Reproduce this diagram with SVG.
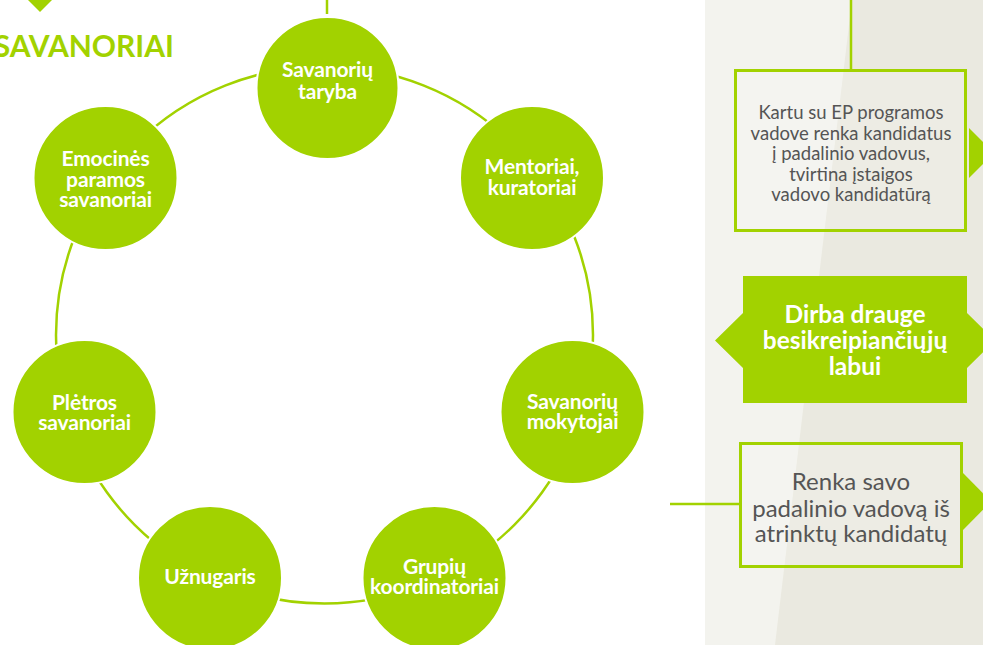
<svg xmlns="http://www.w3.org/2000/svg" width="983" height="645" viewBox="0 0 983 645">
<style>
.node{fill:#a2d200;stroke:#ffffff;stroke-width:2}
.ntext{font-family:Lato,"Liberation Sans",sans-serif;font-weight:bold;font-size:21px;letter-spacing:-0.15px;fill:#ffffff;text-anchor:middle}
.line{stroke:#a2d200;stroke-width:2.5;fill:none}
.box{fill:#ffffff;fill-opacity:0.15;stroke:#a2d200;stroke-width:3}
.gtext{font-family:Lato,"Liberation Sans",sans-serif;fill:#555555;text-anchor:middle}
.green{fill:#a2d200}
</style>
<rect x="0" y="0" width="983" height="645" fill="#ffffff"/>
<rect x="705" y="0" width="278" height="645" fill="#f3f3ee"/>
<polygon points="852,0 983,0 983,645 775,645" fill="#eae9e0"/>

<polygon class="green" points="26,-2 54,-2 40,12"/>
<text x="174" y="57" font-family="Lato,'Liberation Sans',sans-serif" font-weight="bold" font-size="30" fill="#a2d200" text-anchor="end">SAVANORIAI</text>

<g id="connectors">
<circle class="line" cx="324.5" cy="335" r="268.5"/>
<line class="line" x1="327" y1="0" x2="327" y2="14"/>
<line class="line" x1="851" y1="0" x2="851" y2="70"/>
<line class="line" x1="670" y1="504" x2="739" y2="504"/>
</g>

<g id="n-taryba">
<circle class="node" cx="327.5" cy="88" r="71"/>
<text class="ntext" x="327.5" y="77">Savanorių</text>
<text class="ntext" x="327.5" y="99">taryba</text>
</g>
<g id="n-mentoriai">
<circle class="node" cx="532" cy="178" r="72"/>
<text class="ntext" x="532" y="174">Mentoriai,</text>
<text class="ntext" x="532" y="195">kuratoriai</text>
</g>
<g id="n-mokytojai">
<circle class="node" cx="572.5" cy="412" r="72"/>
<text class="ntext" x="572.5" y="409">Savanorių</text>
<text class="ntext" x="572.5" y="429">mokytojai</text>
</g>
<g id="n-grupiu">
<circle class="node" cx="434.5" cy="578" r="72"/>
<text class="ntext" x="434.5" y="574">Grupių</text>
<text class="ntext" x="434.5" y="594">koordinatoriai</text>
</g>
<g id="n-uznugaris">
<circle class="node" cx="210" cy="578" r="72"/>
<text class="ntext" x="210" y="584">Užnugaris</text>
</g>
<g id="n-pletros">
<circle class="node" cx="84.5" cy="412" r="72"/>
<text class="ntext" x="84.5" y="410">Plėtros</text>
<text class="ntext" x="84.5" y="430">savanoriai</text>
</g>
<g id="n-emocines">
<circle class="node" cx="105.5" cy="178" r="72"/>
<text class="ntext" x="105.5" y="166">Emocinės</text>
<text class="ntext" x="105.5" y="187">paramos</text>
<text class="ntext" x="105.5" y="207">savanoriai</text>
</g>

<g id="box-top">
<polygon class="green" points="969,128 994,153 969,178"/>
<rect class="box" x="735.5" y="70.5" width="230" height="160"/>
<g class="gtext" font-size="18.5">
<text x="851" y="119">Kartu su EP programos</text>
<text x="851" y="139.5">vadove renka kandidatus</text>
<text x="851" y="160">į padalinio vadovus,</text>
<text x="851" y="180.5">tvirtina įstaigos</text>
<text x="851" y="201">vadovo kandidatūrą</text>
</g>
</g>

<g id="box-mid">
<polygon class="green" points="743,276 967,276 967,313 995,340.5 967,368 967,403 743,403 743,368 715,340.5 743,313"/>
<g font-family="Lato,'Liberation Sans',sans-serif" font-weight="bold" font-size="24.5" fill="#ffffff" text-anchor="middle">
<text x="855" y="323">Dirba drauge</text>
<text x="855" y="349">besikreipiančiųjų</text>
<text x="855" y="375">labui</text>
</g>
</g>

<g id="box-bottom">
<polygon class="green" points="963,473 991,501.5 963,530"/>
<rect class="box" x="740.5" y="443.5" width="221" height="123"/>
<g class="gtext" font-size="24">
<text x="851" y="490">Renka savo</text>
<text x="851" y="516.5">padalinio vadovą iš</text>
<text x="851" y="542">atrinktų kandidatų</text>
</g>
</g>
</svg>
